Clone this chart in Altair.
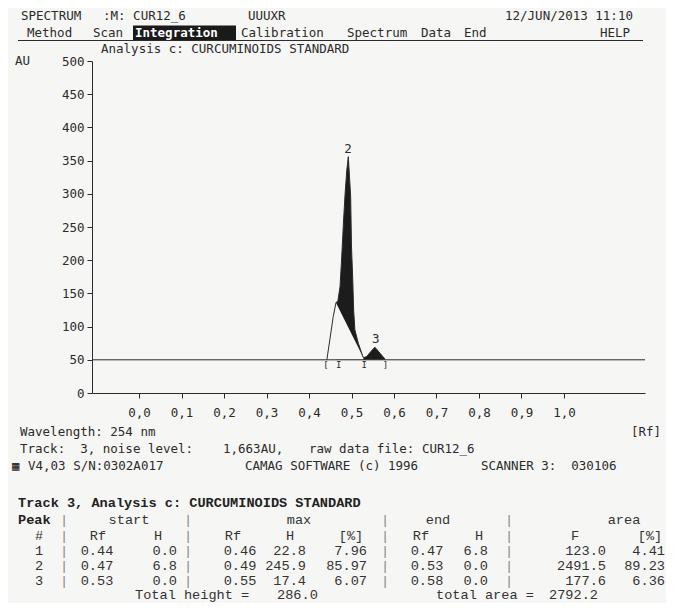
import altair as alt
import pandas as pd

# ---------------- data ----------------
rf_curve = [0.442, 0.449, 0.457, 0.4635, 0.468, 0.473, 0.477, 0.481, 0.485, 0.489, 0.4925,
            0.498, 0.500, 0.503, 0.505, 0.508, 0.516, 0.524, 0.528, 0.536, 0.545, 0.555,
            0.567, 0.579]
au_curve = [50, 80, 115, 136, 139, 160, 205, 256, 301, 336, 356,
            296, 220, 170, 125, 95, 75, 60, 53, 55, 62, 69,
            60, 51]
chord_rf = [0.4635, 0.528]
chord_au = [136, 53]
baseline_au = 50

peak_no = [1, 2, 3]
start_rf = [0.44, 0.47, 0.53]
start_h = [0.0, 6.8, 0.0]
max_rf = [0.46, 0.49, 0.55]
max_h = [22.8, 245.9, 17.4]
max_pct = [7.96, 85.97, 6.07]
end_rf = [0.47, 0.53, 0.58]
end_h = [6.8, 0.0, 0.0]
area_f = [123.0, 2491.5, 177.6]
area_pct = [4.41, 89.23, 6.36]
total_height = 286.0
total_area = 2792.2

label_text = ["2", "3"]
label_rf = [0.492, 0.557]
label_au = [356, 69]

x_ticks = [0.0, 0.1, 0.2, 0.3, 0.4, 0.5, 0.6, 0.7, 0.8, 0.9, 1.0]
y_ticks = [0, 50, 100, 150, 200, 250, 300, 350, 400, 450, 500]

# ---------------- layout ----------------
W, H = 553, 332
PAD = {"left": 84, "top": 53, "right": 21, "bottom": 210}
OX, OY = 8 + PAD["left"], 8 + PAD["top"]
BG = "#f6f6f4"
INK = "#2b2b2b"
MONO = "DejaVu Sans Mono"
TYPE = "Liberation Mono"
NB = "\u00a0"

xs = alt.Scale(domain=[-0.1106, 1.1906], nice=False, zero=False)
ys = alt.Scale(domain=[0, 500], nice=False, zero=False)

curve = pd.DataFrame({"rf": rf_curve, "au": au_curve})
fill = curve[curve["rf"] >= chord_rf[0]]
chord = pd.DataFrame({"rf": chord_rf, "au": chord_au})

x_axis = alt.Axis(values=x_ticks, format=".1f", labelExpr="replace(datum.label, '.', ',')",
                  tickSize=5, labelPadding=8, grid=False, title=None,
                  domainColor=INK, tickColor=INK, labelColor=INK,
                  labelFont=MONO, labelFontSize=12.5, labelFlush=False, labelOverlap=False)
y_axis = alt.Axis(values=y_ticks, format="d", tickSize=5, labelPadding=3, grid=False,
                  title=None, domainColor=INK, tickColor=INK, labelColor=INK,
                  labelFont=MONO, labelFontSize=12.5, labelFlush=False, labelOverlap=False)

X = alt.X("rf:Q", scale=xs, axis=x_axis)
Y = alt.Y("au:Q", scale=ys, axis=y_axis)

black = alt.Chart(fill).mark_area(color="#1c1c1c", opacity=1, interpolate="linear").encode(
    x=X, y=Y, y2=alt.datum(baseline_au),
)
white = alt.Chart(chord).mark_area(color=BG, opacity=1).encode(
    x=X, y=Y, y2=alt.datum(baseline_au),
)
outline = alt.Chart(curve).mark_line(color=INK, strokeWidth=1).encode(x=X, y=Y)
base_rule = alt.Chart(pd.DataFrame({"au": [baseline_au]})).mark_rule(color=INK, strokeWidth=1).encode(
    y=Y
)
markers = alt.Chart(pd.DataFrame({
    "rf": [start_rf[0], start_rf[1], start_rf[2], end_rf[2]],
    "t": ["[", "I", "I", "]"],
    "au": [baseline_au] * 4,
})).mark_text(font=MONO, fontSize=9, baseline="top", dy=1, color=INK).encode(
    x=X, y=Y, text="t:N",
)
peak_labels = alt.Chart(pd.DataFrame({"rf": label_rf, "au": label_au, "t": label_text})).mark_text(
    font=MONO, fontSize=12.5, baseline="bottom", dy=-1, color=INK).encode(
    x=X, y=Y, text="t:N",
)
plot = alt.layer(black, white, outline, base_rule, markers, peak_labels)

# ---------------- annotation texts (page coordinates) ----------------
items = []
def add(t, xp, yp, style, align="left"):
    items.append({"t": t.replace(" ", NB), "px": xp - OX, "py": yp - OY, "style": style, "align": align})

add("SPECTRUM", 21, 16, "hdr")
add(":M: CUR12_6", 103, 16, "hdr")
add("UUUXR", 248, 16, "hdr")
add("12/JUN/2013 11:10", 505, 16, "hdr")
for t, xp in [("Method", 27), ("Scan", 93), ("Calibration", 241), ("Spectrum", 347),
              ("Data", 421), ("End", 464), ("HELP", 600)]:
    add(t, xp, 33, "hdr")
add("Integration", 135, 33, "inv")
add("Analysis c: CURCUMINOIDS STANDARD", 101, 49, "hdr")
add("AU", 15, 61, "hdr")
add("Wavelength: 254 nm", 20, 432, "hdr")
add("[Rf]", 631, 432, "hdr")
add("Track:  3, noise level:", 20, 449, "hdr")
add("1,663AU,", 223, 449, "hdr")
add("raw data file: CUR12_6", 309, 449, "hdr")
add("\u25a6", 12, 466, "hdr")
add("V4,03 S/N:0302A017", 28, 466, "hdr")
add("CAMAG SOFTWARE (c) 1996", 245, 466, "hdr")
add("SCANNER 3:  030106", 481, 466, "hdr")

# table
add("Track 3, Analysis c: CURCUMINOIDS STANDARD", 18, 503, "tblt")
r0, r1 = 520, 535.5
add("Peak", 18, r0, "tblt")
seps = [64, 188, 385, 509]
for xp in seps:
    add("|", xp, r0, "sep", "center")
    add("|", xp, r1, "sep", "center")
for t, xp in [("start", 129), ("max", 299), ("end", 438), ("area", 624)]:
    add(t, xp, r0, "tbl", "center")
for t, xp in [("#", 39), ("Rf", 98), ("H", 158), ("Rf", 233), ("H", 290), ("[%]", 351),
              ("Rf", 421), ("H", 479), ("F", 575), ("[%]", 650)]:
    add(t, xp, r1, "tbl", "center")
row_y = [551, 566, 580.5]
for i in range(3):
    ry = row_y[i]
    add(str(peak_no[i]), 39, ry, "tbl", "center")
    for xp in seps:
        add("|", xp, ry, "sep", "center")
    add(f"{start_rf[i]:.2f}", 97, ry, "tbl", "center")
    add(f"{start_h[i]:.1f}", 177, ry, "tbl", "right")
    add(f"{max_rf[i]:.2f}", 240, ry, "tbl", "center")
    add(f"{max_h[i]:.1f}", 306, ry, "tbl", "right")
    add(f"{max_pct[i]:.2f}", 367, ry, "tbl", "right")
    add(f"{end_rf[i]:.2f}", 427, ry, "tbl", "center")
    add(f"{end_h[i]:.1f}", 488, ry, "tbl", "right")
    add(f"{area_f[i]:.1f}", 606, ry, "tbl", "right")
    add(f"{area_pct[i]:.2f}", 665, ry, "tbl", "right")
add("Total height =", 135, 595, "tbl")
add(f"{total_height:.1f}", 277, 595, "tbl")
add("total area =", 436, 595, "tbl")
add(f"{total_area:.1f}", 549, 595, "tbl")

ann = pd.DataFrame(items)
px_s = alt.Scale(domain=[0, W], range=[0, W], nice=False, zero=False)
py_s = alt.Scale(domain=[0, H], range=[0, H], nice=False, zero=False)

styles = {
    "hdr": dict(font=MONO, fontSize=12.5, color=INK, fontWeight="normal"),
    "inv": dict(font=MONO, fontSize=12.5, color="white", fontWeight="bold"),
    "tblt": dict(font=TYPE, fontSize=13.6, color="#222222", fontWeight="bold"),
    "tbl": dict(font=TYPE, fontSize=13.6, color="#333333", fontWeight="normal"),
    "sep": dict(font=TYPE, fontSize=13.6, color="#888888", fontWeight="normal"),
}

box = alt.Chart(pd.DataFrame({"x1": [133 - OX], "x2": [236 - OX], "y1": [25.5 - OY], "y2": [40 - OY]})).mark_rect(
    color="#1a1a1a").encode(
    x=alt.X("x1:Q", scale=px_s, axis=None), x2="x2:Q",
    y=alt.Y("y1:Q", scale=py_s, axis=None), y2="y2:Q",
)
underline = alt.Chart(pd.DataFrame({"x1": [18 - OX], "x2": [643 - OX], "y": [40.5 - OY]})).mark_rule(
    color=INK, strokeWidth=1).encode(
    x=alt.X("x1:Q", scale=px_s, axis=None), x2="x2:Q",
    y=alt.Y("y:Q", scale=py_s, axis=None),
)

text_layers = [box, underline]
for (st, al), grp in ann.groupby(["style", "align"]):
    text_layers.append(
        alt.Chart(grp).mark_text(baseline="middle", align=al, **styles[st]).encode(
            x=alt.X("px:Q", scale=px_s, axis=None),
            y=alt.Y("py:Q", scale=py_s, axis=None),
            text="t:N",
        )
    )
annotations = alt.layer(*text_layers)

chart = alt.layer(plot, annotations).resolve_scale(x="independent", y="independent").properties(
    width=W, height=H, padding=PAD, autosize=alt.AutoSizeParams(type="none"), background=BG
).configure_view(stroke=None)

chart.save("out.html", embed_options={"renderer": "svg", "actions": False})
